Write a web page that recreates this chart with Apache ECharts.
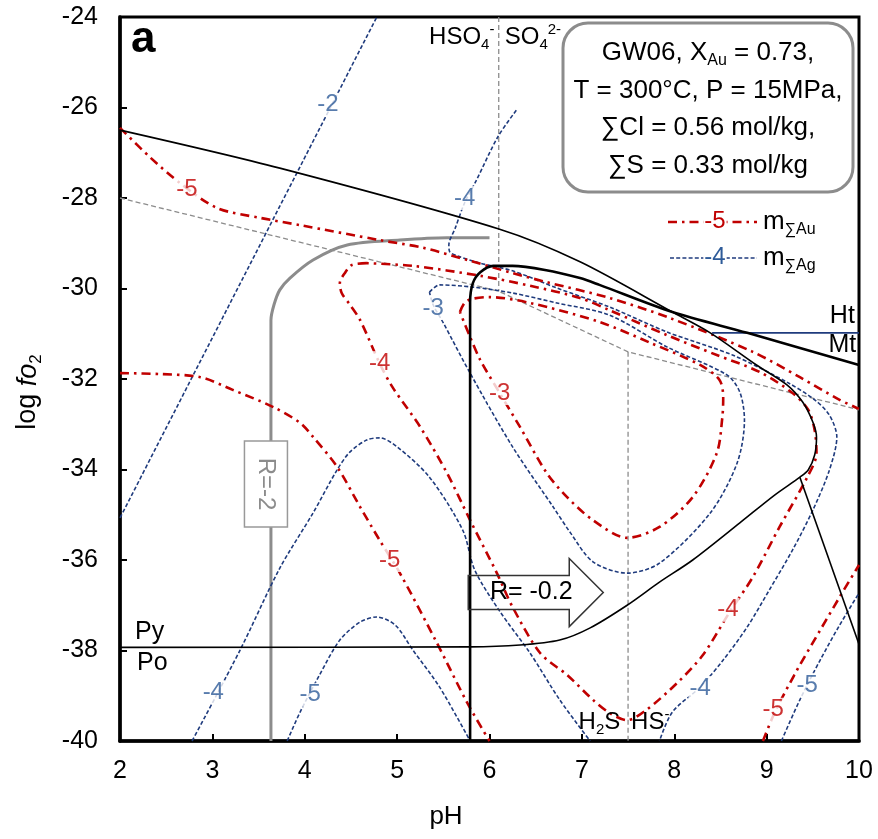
<!DOCTYPE html>
<html><head><meta charset="utf-8">
<script src="https://cdn.jsdelivr.net/npm/echarts@6/dist/echarts.min.js"></script>
<style>html,body{margin:0;padding:0;background:#fff}#c{width:878px;height:839px}</style>
</head><body><div id="c"></div>
<script>
// ---------- DATA (pH, log fO2) ----------
const blackThinUpper = [[2,-26.50],[3.73,-27.34],[6.11,-28.69],[6.98,-29.41],[7.98,-30.52],[8.39,-30.98],[8.89,-31.69],[9.22,-32.13],[9.39,-32.51],[9.50,-32.95],[9.54,-33.28],[9.52,-33.68],[9.45,-34.01],[9.36,-34.17],[9.09,-34.56],[8.71,-35.18],[8.20,-36.00],[7.84,-36.49],[7.49,-37.00],[7.09,-37.50],[6.76,-37.77],[6.33,-37.88],[5.79,-37.92],[2,-37.93]];
const blackThinRight = [[9.36,-34.17],[10,-37.86]];
const blackThickR02 = [[5.79,-40],[5.79,-32.5],[5.79,-30.3],[5.82,-29.88],[5.90,-29.64],[6.04,-29.50],[6.25,-29.50],[6.60,-29.59],[6.98,-29.77],[7.19,-29.92],[7.98,-30.52],[8.79,-30.98],[10,-31.69]];
const greyR2 = [[3.634,-40],[3.634,-30.70],[3.667,-30.36],[3.73,-30.03],[3.84,-29.77],[4.09,-29.37],[4.46,-29.04],[5.03,-28.93],[5.54,-28.88],[6.00,-28.88]];
const greyDashDiag = [[2,-28],[6.1,-30.06],[7.5,-31.40],[10,-32.68]];
const greyDashV1 = [[6.1,-24],[6.1,-30.06]];
const greyDashV2 = [[7.5,-31.40],[7.5,-40]];
const htMtLine = [[8.41,-30.98],[10,-30.98]];

const redM5Upper = [[2.00,-26.45],[2.32,-27.09],[2.65,-27.67],[3.05,-28.22],[3.52,-28.44],[3.95,-28.60],[4.81,-28.93],[5.28,-29.10],[5.76,-29.37],[6.25,-29.66],[6.62,-29.86],[7.30,-30.21],[7.95,-30.65],[8.85,-31.40],[9.36,-31.96],[9.79,-32.46],[10.0,-32.66]];
const redM5Lower = [[2.00,-31.87],[2.43,-31.89],[2.87,-31.96],[3.22,-32.24],[3.66,-32.62],[3.95,-32.97],[4.09,-33.28],[4.35,-33.94],[4.60,-34.83],[4.81,-35.56],[5.03,-36.29],[5.43,-37.83],[5.76,-39.16],[6.00,-40]];
const redM5Right = [[8.96,-40],[9.09,-39.36],[9.33,-38.43],[9.58,-37.55],[9.79,-36.82],[10.0,-36.11]];
const redM4 = [[4.67,-29.44],[4.51,-29.48],[4.44,-29.64],[4.38,-29.88],[4.40,-30.10],[4.49,-30.36],[4.60,-30.70],[4.81,-31.65],[4.95,-32.18],[5.25,-33.06],[5.54,-34.08],[5.79,-35.12],[6.08,-36.29],[6.25,-37.04],[6.55,-38.06],[6.84,-38.54],[7.12,-39.09],[7.30,-39.38],[7.49,-39.54],[7.70,-39.31],[8.03,-38.72],[8.31,-38.10],[8.60,-37.15],[8.85,-36.38],[9.14,-35.27],[9.44,-34.17],[9.54,-33.64],[9.52,-33.13],[9.45,-32.68],[9.28,-32.31],[8.93,-31.85],[8.46,-31.47],[7.92,-31.03],[7.30,-30.48],[6.98,-30.21],[6.44,-29.94],[5.90,-29.72],[5.17,-29.50],[4.67,-29.44]];
const redM3 = [[5.68,-30.52],[5.73,-30.32],[5.81,-30.23],[6.00,-30.19],[6.44,-30.32],[7.19,-30.74],[7.74,-31.20],[8.28,-31.69],[8.49,-32.02],[8.53,-32.42],[8.52,-32.86],[8.46,-33.64],[8.20,-34.61],[7.84,-35.27],[7.49,-35.51],[7.12,-35.12],[6.84,-34.61],[6.62,-34.08],[6.33,-33.06],[6.11,-32.31],[5.90,-31.58],[5.79,-31.07],[5.68,-30.52]];

const blueM2 = [[2,-35.07],[4.78,-24]];
const blueM3 = [[5.35,-30.08],[5.46,-29.92],[5.82,-29.97],[6.25,-30.10],[6.73,-30.32],[7.30,-30.59],[7.92,-31.29],[8.57,-31.91],[8.71,-32.29],[8.76,-32.91],[8.68,-33.86],[8.39,-34.96],[7.84,-36.07],[7.49,-36.29],[7.12,-36.04],[6.87,-35.38],[6.69,-34.83],[6.25,-33.50],[5.79,-31.87],[5.50,-30.76],[5.39,-30.36],[5.35,-30.08]];
const blueM4Main = [[6.29,-26.06],[6.09,-26.65],[5.86,-27.60],[5.73,-28.11],[5.63,-28.66],[5.56,-29.04],[5.57,-29.19],[5.65,-29.28],[5.90,-29.44],[6.25,-29.61],[6.73,-29.99],[7.30,-30.41],[7.92,-30.96],[8.63,-31.47],[9.22,-32.07],[9.52,-32.46],[9.68,-32.80],[9.76,-33.28],[9.68,-34.01],[9.50,-34.90],[9.28,-35.78],[9.03,-36.66],[8.79,-37.48],[8.53,-38.21],[8.28,-38.81],[7.98,-39.36],[7.84,-40]];
const blueM4Left = [[2.78,-40],[3.30,-37.99],[3.73,-36.18],[4.09,-34.96],[4.35,-34.01],[4.49,-33.61],[4.67,-33.35],[4.81,-33.30],[5.00,-33.50],[5.35,-34.17],[5.71,-35.34],[5.84,-36.22],[6.11,-37.13],[6.44,-38.06],[6.76,-39.09],[7.09,-40]];
const blueM5Left = [[3.81,-40],[3.95,-39.36],[4.16,-38.54],[4.38,-37.77],[4.60,-37.37],[4.78,-37.26],[4.98,-37.44],[5.17,-37.99],[5.46,-38.81],[5.79,-40]];
const blueM5Right = [[9.16,-40],[9.36,-39.09],[9.58,-38.21],[9.79,-37.44],[10.0,-36.73]];

// contour value labels [pH, logfO2, text]
const redLabels = [[2.725,-27.82,'-5'],[4.81,-31.65,'-4'],[6.11,-32.31,'-3'],[4.92,-36.00,'-5'],[8.58,-37.10,'-4'],[9.07,-39.31,'-5']];
const blueLabels = [[4.25,-25.94,'-2'],[5.73,-28.00,'-4'],[5.39,-30.43,'-3'],[3.01,-38.92,'-4'],[4.06,-38.98,'-5'],[8.28,-38.83,'-4'],[9.44,-38.76,'-5']];
// phase / species labels [pH, logfO2, text]
const phaseLabels = [[2.32,-37.59,'Py'],[2.35,-38.28,'Po'],[9.82,-30.62,'Ht'],[9.82,-31.25,'Mt']];
const speciesLabels = [[5.70,-24.44,'{b|HSO}{sb|4}{sp|-}'],[6.47,-24.44,'{b|SO}{sb|4}{sp|2-}'],[7.19,-39.58,'{b|H}{sb|2}{b|S}'],[7.74,-39.58,'{b|HS}{sp|-}']];
const infoLines = ['{b|GW06, X}{sb|Au}{b| = 0.73,}','{b|T = 300°C, P = 15MPa,}','{b|∑Cl = 0.56 mol/kg,}','{b|∑S = 0.33 mol/kg}'];

// ---------- CHART ----------
const FONT = '"Liberation Sans", Arial, sans-serif';
const RED = '#c00000', BLUE = '#1f3b7d', BLUE_TXT = '#2e5b99', GREY = '#8c8c8c';
const RED_DASH = [9,5,2.5,5], BLUE_DASH = [4,2.2];

function ln(data, color, width, type, smooth, z) {
  return {type:'line', data:data, symbol:'none', showSymbol:false, smooth:smooth, silent:true, z:z,
    lineStyle:{color:color, width:width, type:type, cap:'butt', join:'round'}};
}
function lab(list, color) {
  return {type:'scatter', symbolSize:1, silent:true, z:20, itemStyle:{color:'rgba(0,0,0,0)'},
    data:list.map(d => ({value:[d[0], d[1]], name:d[2]})),
    label:{show:true, position:'inside', formatter:p => p.name, color:color, fontSize:24, fontFamily:FONT,
      backgroundColor:'#fff', padding:[0,1]}};
}

const chart = echarts.init(document.getElementById('c'), null, {renderer:'canvas'});
const axisCommon = {
  axisLine:{show:true, onZero:false, lineStyle:{color:'#000', width:3.5}},
  axisTick:{show:true, inside:true, length:7, lineStyle:{color:'#000', width:2}},
  splitLine:{show:false}
};
const option = {
  animation:false, backgroundColor:'#fff',
  grid:{left:120, top:17, right:19, bottom:98, show:true, borderColor:'#000', borderWidth:3},
  xAxis:Object.assign({type:'value', min:2, max:10, interval:1,
    axisLabel:{color:'#000', fontSize:25, fontFamily:FONT, margin:18}}, axisCommon),
  yAxis:Object.assign({type:'value', min:-40, max:-24, interval:2,
    axisLabel:{color:'#000', fontSize:25, fontFamily:FONT, margin:22}}, axisCommon),
  series:[
    ln(greyDashDiag, GREY, 1.3, [5,3], false, 2),
    ln(greyDashV1, GREY, 1.3, [5,3], false, 2),
    ln(greyDashV2, GREY, 1.3, [5,3], false, 2),
    ln(greyR2, GREY, 3, 'solid', 0.3, 3),
    ln(blueM2, BLUE, 1.6, BLUE_DASH, false, 4),
    ln(blueM3, BLUE, 1.6, BLUE_DASH, 0.3, 4),
    ln(blueM4Main, BLUE, 1.6, BLUE_DASH, 0.3, 4),
    ln(blueM4Left, BLUE, 1.6, BLUE_DASH, 0.3, 4),
    ln(blueM5Left, BLUE, 1.6, BLUE_DASH, 0.3, 4),
    ln(blueM5Right, BLUE, 1.6, BLUE_DASH, 0.3, 4),
    ln(redM5Upper, RED, 2.6, RED_DASH, 0.3, 5),
    ln(redM5Lower, RED, 2.6, RED_DASH, 0.3, 5),
    ln(redM5Right, RED, 2.6, RED_DASH, 0.3, 5),
    ln(redM4, RED, 2.6, RED_DASH, 0.3, 5),
    ln(redM3, RED, 2.6, RED_DASH, 0.3, 5),
    ln(blackThinUpper, '#000', 1.6, 'solid', 0.3, 6),
    ln(blackThinRight, '#000', 1.6, 'solid', false, 6),
    ln(blackThickR02, '#000', 2.6, 'solid', 0.3, 7),
    ln(htMtLine, BLUE, 1.6, 'solid', false, 6),
    lab(redLabels, RED),
    lab(blueLabels, BLUE_TXT)
  ]
};
chart.setOption(option);

const P = (x, y) => chart.convertToPixel({gridIndex:0}, [x, y]);
const richStd = {
  b:{fontSize:24, lineHeight:30, fontFamily:FONT, color:'#222'},
  sb:{fontSize:15, lineHeight:15, verticalAlign:'bottom', fontFamily:FONT, color:'#222'},
  sp:{fontSize:15, lineHeight:15, verticalAlign:'top', fontFamily:FONT, color:'#222'}
};
const richInfo = {
  b:{fontSize:26, lineHeight:32, fontFamily:FONT, color:'#000'},
  sb:{fontSize:16, lineHeight:16, verticalAlign:'bottom', fontFamily:FONT, color:'#000'}
};
const g = [];
// letter a
g.push({type:'text', x:131, y:40, z:50, style:{text:'a', font:'bold 44px '+FONT, fill:'#000', verticalAlign:'middle'}});
// axis titles
g.push({type:'text', x:446, y:817, z:50, style:{text:'pH', font:'26px '+FONT, fill:'#000', align:'center', verticalAlign:'middle'}});
g.push({type:'text', x:28, y:392, rotation:Math.PI/2, z:50, style:{
  text:'{n|log }{i|fo}{s|2}', align:'center', verticalAlign:'middle',
  rich:{n:{fontSize:27, lineHeight:34, fontFamily:FONT, color:'#000'},
        i:{fontSize:27, lineHeight:34, fontStyle:'italic', fontFamily:FONT, color:'#000'},
        s:{fontSize:17, lineHeight:17, verticalAlign:'bottom', fontFamily:FONT, color:'#000'}}}});
// phase labels
phaseLabels.forEach(d => { const p = P(d[0], d[1]);
  g.push({type:'text', x:p[0], y:p[1], z:30, style:{text:d[2], font:'25px '+FONT, fill:'#000', align:'center', verticalAlign:'middle'}}); });
speciesLabels.forEach(d => { const p = P(d[0], d[1]);
  g.push({type:'text', x:p[0], y:p[1], z:30, style:{text:d[2], rich:richStd, align:'center', verticalAlign:'middle'}}); });
// info box
g.push({type:'rect', z:40, shape:{x:563, y:23, width:290, height:169, r:25}, style:{fill:'#fff', stroke:'#8c8c8c', lineWidth:3}});
infoLines.forEach((t, i) => {
  g.push({type:'text', x:708, y:53 + i*37.5, z:41, style:{text:t, rich:richInfo, align:'center', verticalAlign:'middle'}});
});
// legend
g.push({type:'line', z:40, shape:{x1:668, y1:222, x2:757, y2:222}, style:{stroke:RED, lineWidth:2.6, lineDash:RED_DASH}});
g.push({type:'text', x:715, y:221, z:41, style:{text:'-5', font:'24px '+FONT, fill:RED, align:'center', verticalAlign:'middle', backgroundColor:'#fff', padding:[0,1]}});
g.push({type:'text', x:763, y:222, z:41, style:{text:'{b|m}{sb|∑Au}', rich:richInfo, verticalAlign:'middle'}});
g.push({type:'line', z:40, shape:{x1:670, y1:258, x2:757, y2:258}, style:{stroke:BLUE, lineWidth:1.6, lineDash:BLUE_DASH}});
g.push({type:'text', x:715, y:257, z:41, style:{text:'-4', font:'24px '+FONT, fill:BLUE_TXT, align:'center', verticalAlign:'middle', backgroundColor:'#fff', padding:[0,1]}});
g.push({type:'text', x:763, y:258, z:41, style:{text:'{b|m}{sb|∑Ag}', rich:richInfo, verticalAlign:'middle'}});
// R=-2 box
(function(){ const p = P(3.58, -34.32);
  g.push({type:'rect', z:30, shape:{x:p[0]-21.5, y:p[1]-43, width:43, height:86}, style:{fill:'#fff', stroke:'#999', lineWidth:1.5}});
  g.push({type:'text', x:p[0], y:p[1], rotation:-Math.PI/2, z:31, style:{text:'R=-2', font:'24px '+FONT, fill:'#8c8c8c', align:'center', verticalAlign:'middle'}});
})();
// R=-0.2 arrow
(function(){ const a = P(5.77, -36.72);
  const x0 = a[0], yc = a[1];
  g.push({type:'polygon', z:8, shape:{points:[[x0,yc-17],[x0+101,yc-17],[x0+101,yc-34],[x0+135,yc],[x0+101,yc+34],[x0+101,yc+17],[x0,yc+17]]},
    style:{fill:'none', stroke:'#333', lineWidth:1.5}});
  g.push({type:'text', x:x0+63, y:yc, z:9, style:{text:'R= -0.2', font:'25px '+FONT, fill:'#000', align:'center', verticalAlign:'middle'}});
})();
chart.setOption({graphic:g});
</script></body></html>
